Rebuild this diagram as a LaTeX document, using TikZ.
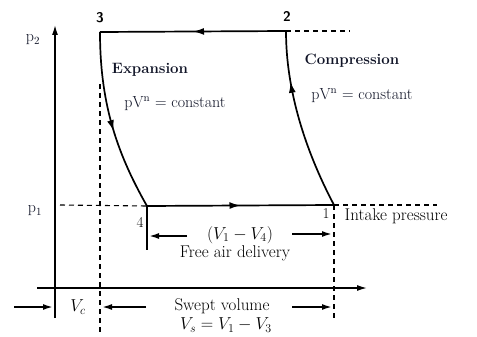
\documentclass[tikz,border=0pt]{standalone}
\usepackage{amsmath}
\usetikzlibrary{arrows.meta, positioning, decorations.markings}
\definecolor{inknavy}{HTML}{0F1326}
\tikzset{
  process/.style={line width=1.7pt, line join=round},
  midarrow/.style={postaction={decorate}, decoration={markings,
                   mark=at position #1 with {\arrow{Latex[length=11pt,width=7pt]}}}},
  guide/.style={line width=1.1pt, dash pattern=on 5pt off 4pt},
  axis/.style={-{Latex[length=10pt,width=6pt]}, line width=1.4pt},
  dimarr/.style={-{Latex[length=10pt,width=6pt]}, line width=1.7pt},
  ptlbl/.style={font=\sffamily\bfseries\fontsize{14}{16}\selectfont},
  numlbl/.style={font=\fontsize{15}{17}\selectfont},
  plbl/.style={text=inknavy, font=\fontsize{16}{18}\selectfont},
  stage/.style={text=inknavy, font=\bfseries\fontsize{15}{18}\selectfont},
  law/.style={text=inknavy, font=\fontsize{16}{18}\selectfont},
  vollbl/.style={inner sep=0.5pt, font=\fontsize{17}{17}\selectfont},
}

\begin{document}
\begin{tikzpicture}[x=1pt, y=-1pt]
  \useasboundingbox (0,0) rectangle (477,337);

  % state points
  \coordinate (s3) at (100,32);
  \coordinate (s2) at (286,31);
  \coordinate (s4) at (147,206);
  \coordinate (s1) at (334,205);

  % axes
  \coordinate (yfoot) at (55,318);
  \coordinate (ytip) at (55,25);
  \coordinate (xfoot) at (37,288);
  \coordinate (xtip) at (367,288);
  \draw[axis] (yfoot) -- (ytip);
  \draw[axis] (xfoot) -- (xtip);

  % guide lines
  \coordinate (p2end) at (350,31);
  \coordinate (p1start) at (60,205);
  \coordinate (p1end) at (437,205);
  \coordinate (v3top) at (100,84);
  \coordinate (v3foot) at (100,333);
  \coordinate (v1foot) at (334,318);
  \coordinate (v4foot) at (147,250);
  \draw[guide] (s2) -- (p2end);
  \draw[guide] (p1start) -- (s4);
  \draw[guide] (s1) -- (p1end);
  \draw[guide] (v3top) -- (v3foot);
  \draw[guide] (s1) -- (v1foot);
  \draw[process] (s4) -- (v4foot);

  % cycle
  \draw[process, midarrow=0.5] (s2) -- (s3);
  \draw[process, midarrow=0.55] (s3) .. controls (100,100) and (115,150) .. (s4);
  \draw[process, midarrow=0.5] (s4) -- (s1);
  \draw[process, midarrow=0.72] (s1) .. controls (305,150) and (286,90) .. (s2);

  % point labels
  \node[ptlbl] (n3) at (100,18) {3};
  \node[ptlbl] (n2) at (287,16) {2};
  \node[numlbl] (n4) at (140,222) {4};
  \node[numlbl] (n1) at (326,214) {1};
  \node[plbl] (lp2) at (33,40) {p$_2$};
  \node[plbl] (lp1) at (35,211) {p$_1$};

  % process labels
  \node[stage] (exp) at (150,70) {Expansion};
  \node[law] (explaw) at (175,104) {pV$^{\mathrm{n}}$ = constant};
  \node[stage] (comp) at (352,61) {Compression};
  \node[law] (complaw) at (362,96) {pV$^{\mathrm{n}}$ = constant};
  \node[vollbl, anchor=west] (intake) at (344,216) {Intake pressure};

  % delivered volume
  \node[vollbl] (fadv) at (240,235) {$(V_1-V_4)$};
  \node[vollbl] (fad) at (235,253) {Free air delivery};
  \coordinate (fadl) at (149,236);
  \coordinate (fadr) at (332,234);
  \draw[dimarr] (187,236) -- (fadl);
  \draw[dimarr] (292,234) -- (fadr);

  % swept and clearance volume
  \node[vollbl] (vc) at (78,307) {$V_c$};
  \node[vollbl] (swept) at (222,306) {Swept volume};
  \node[vollbl] (sweptv) at (226,325) {$V_s=V_1-V_3$};
  \coordinate (vcl) at (53,307);
  \coordinate (vsl) at (102,307);
  \coordinate (vsr) at (332,307);
  \draw[dimarr] (14,307) -- (vcl);
  \draw[dimarr] (146,307) -- (vsl);
  \draw[dimarr] (292,307) -- (vsr);
\end{tikzpicture}
\end{document}
